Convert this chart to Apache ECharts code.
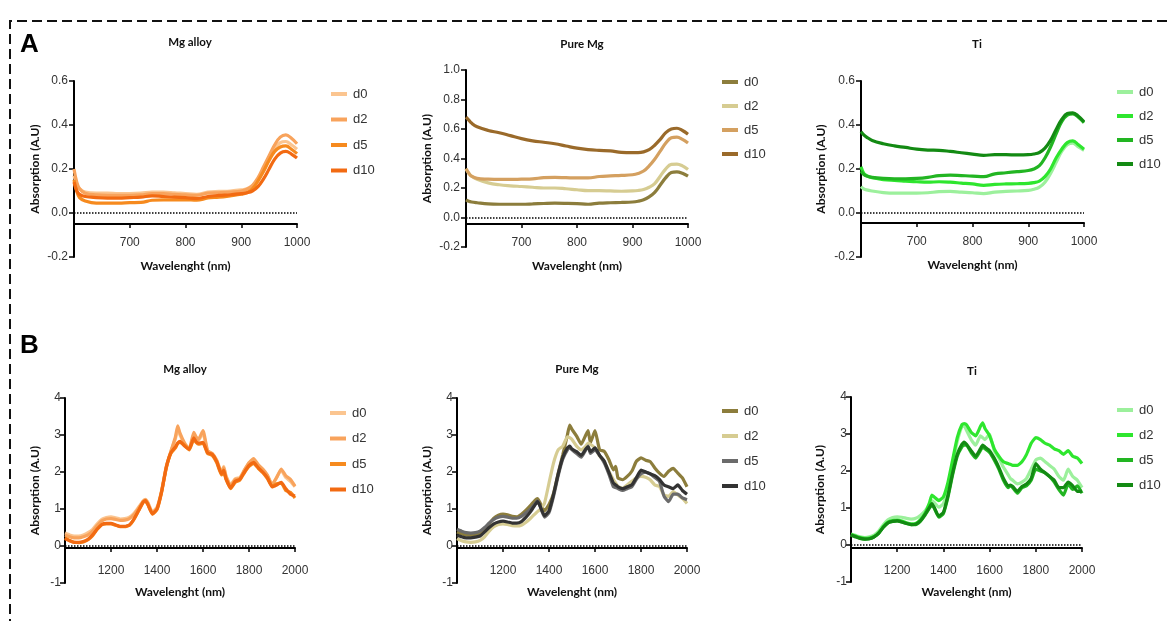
<!DOCTYPE html>
<html><head><meta charset="utf-8">
<script src="https://cdn.jsdelivr.net/npm/echarts@6/dist/echarts.min.js"></script>
<style>html,body{margin:0;padding:0;background:#fff}#c{width:1167px;height:621px}</style>
</head><body><div id="c"></div>
<script>
// ---------- DATA ----------
const SERIES_NAMES = ['d0', 'd2', 'd5', 'd10'];
const PANEL_TITLES = ['Mg alloy', 'Pure Mg', 'Ti', 'Mg alloy', 'Pure Mg', 'Ti'];
const X_NAME = 'Wavelenght (nm)';
const Y_NAME = 'Absorption (A.U)';

const A_WL = [600,605,610,620,640,660,680,700,720,740,760,780,800,820,840,860,880,900,910,920,930,940,950,960,970,980,990,1000];
const B_WL = [1000,1020,1040,1060,1080,1100,1120,1140,1160,1180,1200,1220,1240,1260,1280,1300,1320,1340,1350,1360,1380,1400,1420,1440,1460,1480,1490,1500,1520,1540,1560,1570,1580,1600,1620,1640,1660,1680,1690,1700,1720,1740,1760,1780,1800,1820,1840,1860,1880,1900,1920,1940,1960,1980,2000];

// A - Mg alloy
const A_MGALLOY_D0  = [0.17,0.13,0.11,0.095,0.09,0.09,0.088,0.088,0.09,0.095,0.095,0.092,0.088,0.085,0.095,0.098,0.1,0.105,0.11,0.125,0.15,0.19,0.24,0.29,0.32,0.325,0.31,0.29];
const A_MGALLOY_D2  = [0.2,0.14,0.11,0.09,0.082,0.08,0.08,0.08,0.082,0.088,0.088,0.085,0.082,0.08,0.09,0.092,0.095,0.1,0.108,0.125,0.16,0.21,0.26,0.31,0.345,0.355,0.34,0.315];
const A_MGALLOY_D5  = [0.15,0.1,0.07,0.055,0.045,0.045,0.045,0.047,0.048,0.058,0.06,0.06,0.06,0.058,0.068,0.072,0.078,0.085,0.092,0.11,0.145,0.19,0.24,0.28,0.3,0.305,0.29,0.27];
const A_MGALLOY_D10 = [0.14,0.1,0.085,0.075,0.07,0.068,0.068,0.07,0.072,0.078,0.075,0.072,0.07,0.066,0.075,0.08,0.083,0.088,0.092,0.1,0.12,0.155,0.2,0.245,0.272,0.28,0.268,0.25];
// A - Pure Mg
const A_PUREMG_D0  = [0.12,0.11,0.105,0.1,0.092,0.09,0.09,0.09,0.092,0.095,0.097,0.096,0.094,0.09,0.097,0.1,0.102,0.105,0.11,0.12,0.14,0.17,0.22,0.27,0.305,0.31,0.3,0.28];
const A_PUREMG_D2  = [0.33,0.3,0.28,0.26,0.235,0.222,0.215,0.21,0.205,0.2,0.2,0.195,0.188,0.182,0.182,0.18,0.178,0.18,0.183,0.19,0.205,0.23,0.28,0.33,0.36,0.362,0.35,0.325];
const A_PUREMG_D5  = [0.33,0.3,0.28,0.265,0.26,0.258,0.258,0.26,0.262,0.27,0.272,0.27,0.268,0.268,0.278,0.282,0.285,0.29,0.298,0.315,0.35,0.395,0.45,0.505,0.54,0.545,0.53,0.505];
const A_PUREMG_D10 = [0.68,0.66,0.64,0.615,0.59,0.575,0.555,0.535,0.52,0.51,0.5,0.485,0.47,0.46,0.455,0.452,0.442,0.44,0.44,0.445,0.46,0.49,0.53,0.575,0.6,0.605,0.59,0.565];
// A - Ti
const A_TI_D0  = [0.12,0.11,0.105,0.1,0.093,0.09,0.09,0.09,0.092,0.097,0.098,0.095,0.092,0.088,0.095,0.098,0.1,0.103,0.108,0.118,0.14,0.18,0.23,0.28,0.31,0.318,0.3,0.285];
const A_TI_D2  = [0.21,0.18,0.17,0.16,0.152,0.148,0.145,0.142,0.14,0.142,0.14,0.136,0.132,0.126,0.13,0.132,0.133,0.135,0.138,0.145,0.165,0.2,0.25,0.29,0.32,0.328,0.31,0.29];
const A_TI_D5  = [0.19,0.175,0.168,0.162,0.157,0.155,0.155,0.157,0.162,0.17,0.172,0.17,0.168,0.165,0.178,0.183,0.188,0.193,0.2,0.215,0.25,0.3,0.36,0.415,0.445,0.45,0.435,0.41];
const A_TI_D10 = [0.37,0.355,0.345,0.33,0.315,0.305,0.298,0.29,0.286,0.285,0.28,0.274,0.268,0.262,0.265,0.265,0.264,0.265,0.268,0.275,0.295,0.33,0.38,0.425,0.452,0.455,0.44,0.415];

// B - Mg alloy
const B_MGALLOY_D0  = [0.35,0.3,0.27,0.27,0.3,0.36,0.45,0.6,0.72,0.77,0.79,0.76,0.73,0.74,0.78,0.88,1.05,1.22,1.26,1.18,0.92,1.05,1.5,2.15,2.55,2.9,3.15,3.0,2.75,2.6,3.0,2.92,2.85,3.05,2.55,2.5,2.32,2.0,2.15,1.9,1.65,1.82,1.85,2.05,2.25,2.33,2.18,2.05,1.9,1.65,1.85,2.05,1.85,1.75,1.6];
const B_MGALLOY_D2  = [0.3,0.25,0.22,0.22,0.25,0.3,0.4,0.55,0.68,0.73,0.74,0.72,0.69,0.7,0.74,0.85,1.02,1.2,1.25,1.16,0.9,1.02,1.48,2.12,2.55,2.95,3.25,3.05,2.78,2.62,3.07,2.95,2.88,3.12,2.58,2.5,2.3,1.98,2.12,1.88,1.62,1.8,1.82,2.05,2.25,2.36,2.2,2.08,1.92,1.66,1.85,2.08,1.9,1.8,1.62];
const B_MGALLOY_D5  = [0.22,0.15,0.1,0.09,0.11,0.17,0.28,0.45,0.58,0.6,0.6,0.56,0.52,0.52,0.56,0.72,0.95,1.18,1.22,1.12,0.86,0.98,1.45,2.1,2.5,2.65,2.77,2.8,2.72,2.6,2.88,2.8,2.75,2.78,2.5,2.45,2.25,1.92,2.0,1.8,1.55,1.72,1.78,1.98,2.15,2.23,2.1,1.98,1.82,1.62,1.68,1.7,1.5,1.45,1.3];
const B_MGALLOY_D10 = [0.2,0.14,0.1,0.1,0.12,0.18,0.3,0.46,0.58,0.61,0.61,0.57,0.53,0.53,0.57,0.73,0.96,1.19,1.23,1.13,0.87,1.0,1.47,2.12,2.52,2.68,2.78,2.83,2.7,2.62,2.92,2.82,2.78,2.8,2.52,2.48,2.28,1.95,2.05,1.82,1.57,1.75,1.8,2.0,2.18,2.26,2.12,2.0,1.85,1.6,1.65,1.72,1.55,1.4,1.35];
// B - Pure Mg
const B_PUREMG_D0  = [0.38,0.33,0.3,0.29,0.3,0.34,0.45,0.6,0.75,0.83,0.86,0.84,0.8,0.79,0.86,0.97,1.1,1.24,1.28,1.18,0.95,1.12,1.43,1.97,2.47,3.0,3.27,3.15,2.97,2.75,3.0,3.12,2.79,3.12,2.6,2.56,2.34,2.06,2.15,1.84,1.79,1.88,2.02,2.29,2.38,2.32,2.28,2.11,1.97,1.88,2.02,2.1,1.97,1.84,1.6];
const B_PUREMG_D2  = [0.2,0.14,0.11,0.1,0.11,0.15,0.25,0.4,0.52,0.58,0.6,0.58,0.55,0.54,0.56,0.64,0.75,0.87,0.93,0.98,1.15,1.7,2.25,2.6,2.7,2.95,2.93,2.88,2.7,2.6,2.7,2.78,2.75,2.65,2.43,2.29,2.02,1.79,1.7,1.61,1.56,1.65,1.75,1.84,1.88,1.86,1.79,1.65,1.61,1.38,1.34,1.47,1.38,1.29,1.15];
const B_PUREMG_D5  = [0.45,0.4,0.36,0.35,0.36,0.4,0.5,0.62,0.72,0.78,0.8,0.78,0.75,0.75,0.8,0.9,1.0,1.15,1.22,1.1,0.78,0.9,1.35,1.9,2.35,2.6,2.65,2.6,2.5,2.4,2.6,2.7,2.5,2.6,2.45,2.25,1.95,1.6,1.58,1.55,1.5,1.55,1.6,1.8,1.95,2.0,1.95,1.85,1.75,1.35,1.2,1.4,1.4,1.3,1.25];
const B_PUREMG_D10 = [0.3,0.25,0.22,0.22,0.24,0.27,0.38,0.5,0.6,0.65,0.67,0.65,0.62,0.62,0.66,0.78,0.93,1.12,1.2,1.1,0.82,0.95,1.4,1.95,2.4,2.65,2.7,2.62,2.55,2.45,2.62,2.68,2.55,2.65,2.45,2.3,2.0,1.7,1.65,1.6,1.55,1.6,1.65,1.85,2.05,2.0,1.95,1.9,1.8,1.65,1.6,1.55,1.65,1.5,1.4];
// B - Ti
const B_TI_D0  = [0.3,0.26,0.22,0.2,0.22,0.27,0.38,0.55,0.68,0.74,0.76,0.75,0.72,0.7,0.72,0.8,0.92,1.1,1.2,1.15,1.02,1.12,1.55,2.2,2.8,3.2,3.22,3.1,2.85,2.7,2.95,2.9,2.85,3.0,2.55,2.35,2.1,1.9,1.8,1.75,1.65,1.7,1.8,2.05,2.3,2.35,2.25,2.15,2.05,1.85,1.75,2.05,1.85,1.75,1.55];
const B_TI_D2  = [0.28,0.24,0.2,0.18,0.19,0.23,0.33,0.5,0.62,0.66,0.67,0.65,0.6,0.57,0.58,0.68,0.85,1.15,1.35,1.3,1.2,1.3,1.7,2.3,2.9,3.25,3.28,3.25,3.05,2.95,3.2,3.3,3.15,2.95,2.6,2.4,2.25,2.2,2.18,2.15,2.15,2.25,2.45,2.75,2.9,2.85,2.75,2.7,2.6,2.55,2.45,2.55,2.4,2.35,2.2];
const B_TI_D5  = [0.27,0.22,0.18,0.16,0.17,0.22,0.32,0.48,0.6,0.64,0.65,0.62,0.58,0.55,0.55,0.64,0.8,1.0,1.1,1.0,0.75,0.85,1.3,1.9,2.4,2.65,2.7,2.7,2.5,2.35,2.55,2.65,2.6,2.5,2.3,2.05,1.75,1.55,1.6,1.55,1.4,1.55,1.6,1.75,2.05,2.0,1.95,1.85,1.7,1.5,1.35,1.65,1.5,1.6,1.4];
const B_TI_D10 = [0.27,0.22,0.18,0.16,0.17,0.22,0.32,0.48,0.6,0.64,0.65,0.62,0.58,0.55,0.56,0.65,0.82,1.02,1.12,1.02,0.78,0.88,1.35,1.95,2.45,2.72,2.78,2.72,2.55,2.4,2.6,2.7,2.65,2.55,2.35,2.1,1.8,1.6,1.62,1.58,1.45,1.58,1.65,1.8,2.2,2.05,1.95,1.85,1.75,1.55,1.55,1.7,1.6,1.45,1.45];

// ---------- STYLE ----------
const COLORS_MG_ALLOY = ['#FBC590', '#F8A35C', '#F68A1E', '#F26A12'];
const COLORS_PURE_MG_A = ['#8C7D3C', '#D6CC92', '#D4A060', '#9A6A2A'];
const COLORS_PURE_MG_B = ['#8C7D3C', '#D6CC92', '#6B6B6B', '#333333'];
const COLORS_TI = ['#9CF09C', '#2EE62E', '#22B522', '#138A13'];

const panels = [
  {key:'A1', grid:{left:74, top:81, width:223, height:176}, xOff:-33, yMin:-0.2, yMax:0.6, yInt:0.2, dec:1, xMin:600, xMax:1000, xInt:100, wl:A_WL, data:[A_MGALLOY_D0,A_MGALLOY_D2,A_MGALLOY_D5,A_MGALLOY_D10], colors:COLORS_MG_ALLOY, tx:185, ty:31, lx:331, ly:87, lgap:11.5, yGap:33, xGap:36, xm:13, ym:6, smooth:0.4},
  {key:'A2', grid:{left:466, top:70, width:222, height:177}, xOff:-23, yMin:-0.2, yMax:1.0, yInt:0.2, dec:1, xMin:600, xMax:1000, xInt:100, wl:A_WL, data:[A_PUREMG_D0,A_PUREMG_D2,A_PUREMG_D5,A_PUREMG_D10], colors:COLORS_PURE_MG_A, tx:577, ty:33, lx:722, ly:75, lgap:10, yGap:33, xGap:36, xm:13, ym:6, smooth:0.4},
  {key:'A3', grid:{left:861, top:81, width:223, height:176}, xOff:-34, yMin:-0.2, yMax:0.6, yInt:0.2, dec:1, xMin:600, xMax:1000, xInt:100, wl:A_WL, data:[A_TI_D0,A_TI_D2,A_TI_D5,A_TI_D10], colors:COLORS_TI, tx:972, ty:33, lx:1117, ly:85, lgap:10, yGap:34, xGap:36, xm:13, ym:6, smooth:0.4},
  {key:'B1', grid:{left:65, top:398, width:230, height:185}, xOff:-35, yMin:-1, yMax:4, yInt:1, dec:0, xMin:1000, xMax:2000, xInt:200, wl:B_WL, data:[B_MGALLOY_D0,B_MGALLOY_D2,B_MGALLOY_D5,B_MGALLOY_D10], colors:COLORS_MG_ALLOY, tx:180, ty:358, lx:330, ly:406, lgap:11.5, yGap:24, xGap:38, xm:17, ym:4, smooth:0.15},
  {key:'B2', grid:{left:457, top:398, width:230, height:185}, xOff:-35, yMin:-1, yMax:4, yInt:1, dec:0, xMin:1000, xMax:2000, xInt:200, wl:B_WL, data:[B_PUREMG_D0,B_PUREMG_D2,B_PUREMG_D5,B_PUREMG_D10], colors:COLORS_PURE_MG_B, tx:572, ty:358, lx:722, ly:404, lgap:11, yGap:24, xGap:38, xm:17, ym:4, smooth:0.15},
  {key:'B3', grid:{left:851, top:397, width:231, height:185}, xOff:-34, yMin:-1, yMax:4, yInt:1, dec:0, xMin:1000, xMax:2000, xInt:200, wl:B_WL, data:[B_TI_D0,B_TI_D2,B_TI_D5,B_TI_D10], colors:COLORS_TI, tx:967, ty:360, lx:1117, ly:403, lgap:11, yGap:25, xGap:38, xm:17, ym:4, smooth:0.15}
];

const TITLE_FONT = {fontFamily:'Lato', fontWeight:'bold', fontSize:11.5, color:'#111'};
const NAME_FONT = {fontFamily:'Lato', fontWeight:'bold', fontSize:12, color:'#111'};
const TICK_FONT = {fontFamily:'Liberation Sans', fontSize:12, color:'#333'};

const option = {
  animation: false,
  backgroundColor: '#fff',
  title: panels.map((p, i) => ({text: PANEL_TITLES[i], left: p.tx, top: p.ty, textAlign: 'center', textStyle: TITLE_FONT})),
  grid: panels.map(p => Object.assign({containLabel:false, outerBoundsMode:'none'}, p.grid)),
  xAxis: panels.map((p, i) => ({
    gridIndex: i, type: 'value', min: p.xMin, max: p.xMax, interval: p.xInt, offset: p.xOff,
    name: X_NAME, nameLocation: 'middle', nameGap: p.xGap, nameTextStyle: NAME_FONT,
    axisLine: {show: true, onZero: false, lineStyle: {color: '#000', width: 2}},
    axisTick: {show: true, length: 4, lineStyle: {color: '#000', width: 1.5}},
    axisLabel: Object.assign({showMinLabel: false, margin: p.xm, formatter: v => String(v)}, TICK_FONT),
    splitLine: {show: false}
  })),
  yAxis: panels.map((p, i) => ({
    gridIndex: i, type: 'value', min: p.yMin, max: p.yMax, interval: p.yInt,
    name: Y_NAME, nameLocation: 'middle', nameGap: p.yGap, nameRotate: 90, nameTextStyle: NAME_FONT,
    axisLine: {show: true, onZero: false, lineStyle: {color: '#000', width: 2}},
    axisTick: {show: true, length: 5, lineStyle: {color: '#000', width: 1.5}},
    axisLabel: Object.assign({margin: p.ym, formatter: v => v.toFixed(p.dec)}, TICK_FONT),
    splitLine: {show: false}
  })),
  legend: panels.map(p => ({
    data: SERIES_NAMES.map(n => p.key + ' ' + n),
    orient: 'vertical', left: p.lx, top: p.ly, icon: 'rect', itemWidth: 16, itemHeight: 4, itemGap: p.lgap,
    selectedMode: false, formatter: name => name.split(' ')[1], padding: 0,
    textStyle: {fontFamily:'Liberation Sans', fontSize: 13, color: '#333', lineHeight: 14, padding:[0,0,0,1]}
  })),
  series: [],
  graphic: [
    {type:'polyline', silent:true, shape:{points:[[1167,21],[10,21],[10,621]]}, style:{stroke:'#111', lineWidth:2, lineDash:[10,5], fill:null}},
    {type:'text', left:20, top:32, style:{text:'A', font:'bold 26px "Liberation Sans"', fill:'#000'}},
    {type:'text', left:20, top:333, style:{text:'B', font:'bold 26px "Liberation Sans"', fill:'#000'}}
  ]
};

panels.forEach((p, i) => {
  SERIES_NAMES.forEach((n, j) => {
    const s = {
      type: 'line', name: p.key + ' ' + n, xAxisIndex: i, yAxisIndex: i,
      data: p.wl.map((w, k) => [w, p.data[j][k]]),
      showSymbol: false, symbol: 'none', smooth: p.smooth,
      lineStyle: {width: 3.2, color: p.colors[j]}, itemStyle: {color: p.colors[j]},
      emphasis: {disabled: true}
    };
    if (j === 0) {
      s.markLine = {silent: true, symbol: 'none', label: {show: false},
        lineStyle: {type: 'dotted', color: '#000', width: 1.5}, data: [{yAxis: 0}], z: 1};
    }
    option.series.push(s);
  });
});

const chart = echarts.init(document.getElementById('c'), null, {renderer: 'canvas'});
chart.setOption(option);
</script></body></html>
